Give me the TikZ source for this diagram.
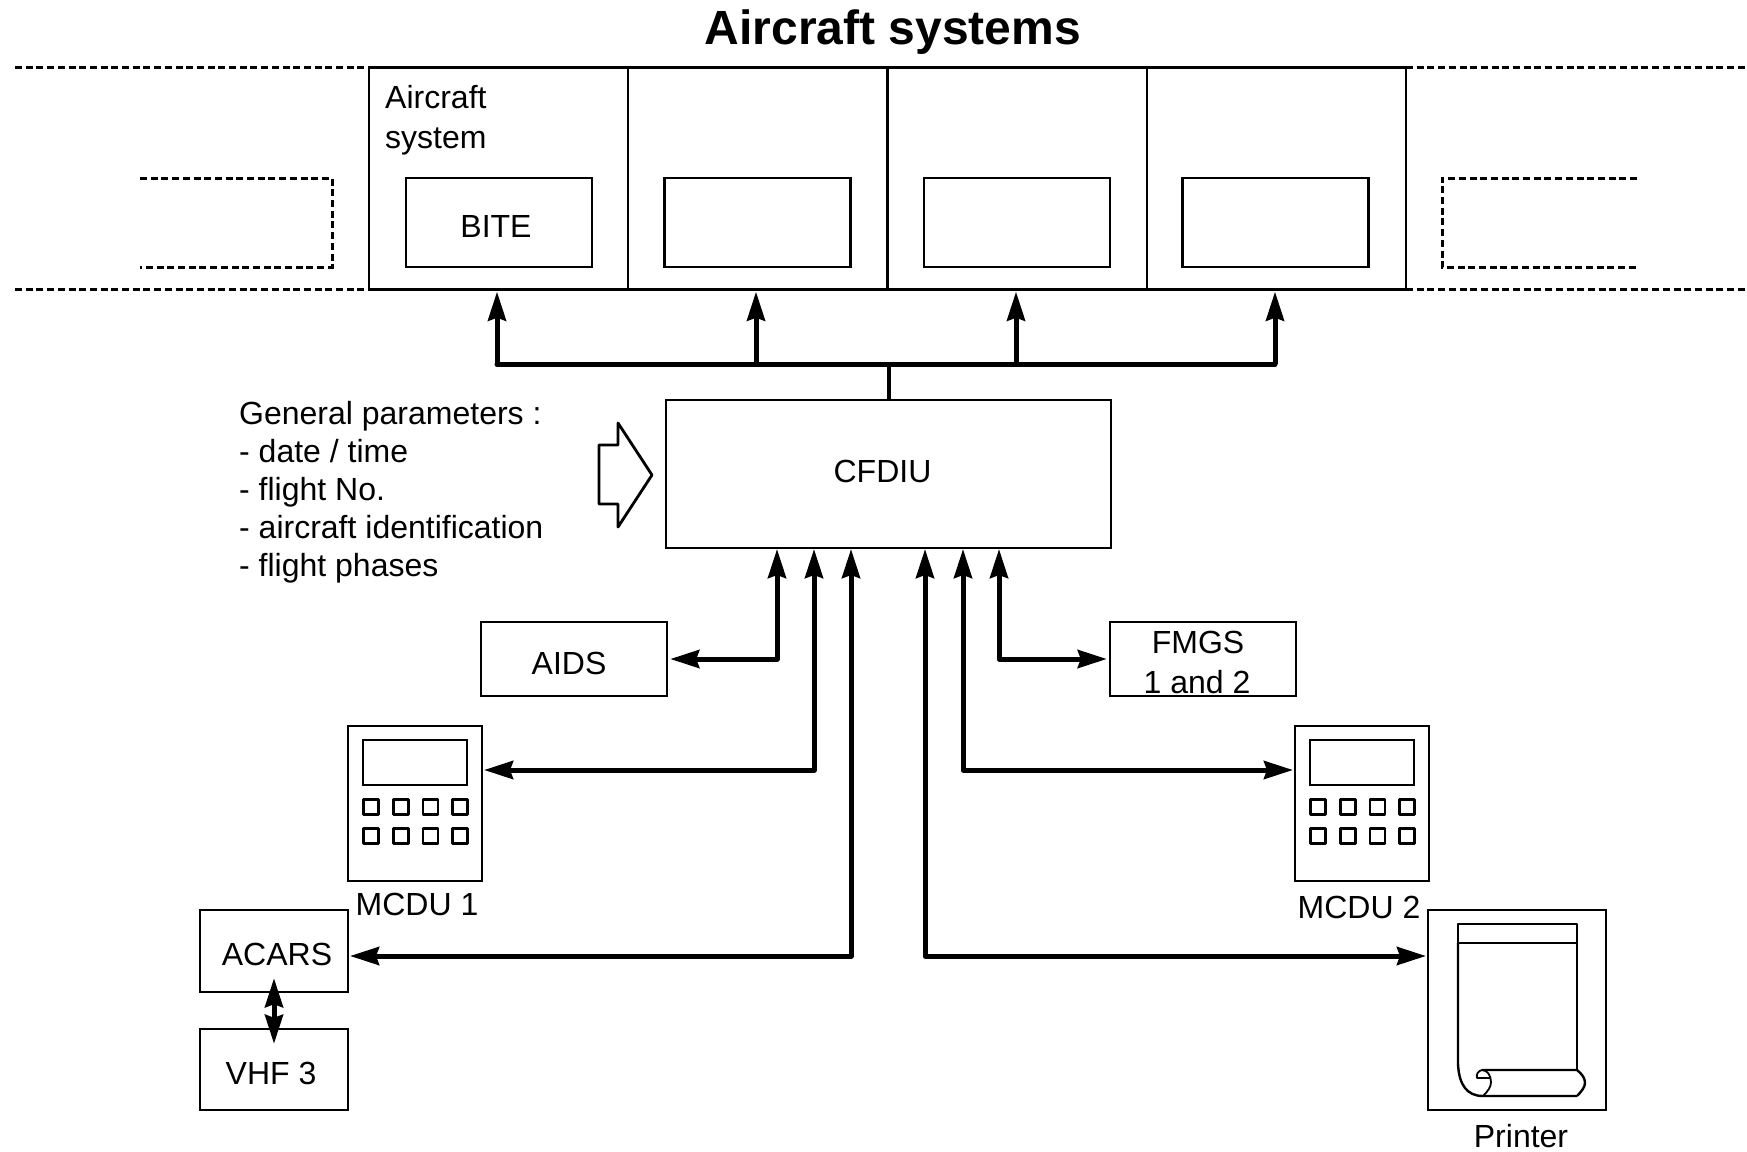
\documentclass[tikz,border=0pt]{standalone}
\usepackage{fontspec}
\setmainfont{Liberation Sans}
\usetikzlibrary{arrows.meta}

\begin{document}
\begin{tikzpicture}[
    x=1pt, y=-1pt,
    >={Stealth[length=29pt, width=18pt, inset=3pt]}, % Set default arrow tip style
    every node/.style={inner sep=0pt, font=\fontsize{32}{38}\selectfont},
    box/.style={draw, line width=2.4pt, minimum width=#1}, % Style for all boxes
    outline/.style={line width=2.4pt, line join=round}, % Style for drawn shapes
    dashline/.style={line width=3pt, dash pattern=on 7pt off 3.7pt}, % Style for open boundaries
    bus/.style={line width=5pt, line join=round, shorten <=2pt, shorten >=1pt}, % Style for data links
    caption/.style={align=left, anchor=west} % Style for free text
]
    \useasboundingbox (0,0) rectangle (1747,1151);

    % Title
    \node[font=\fontsize{48}{52}\bfseries\selectfont] (title) at (893,32) {Aircraft systems};

    % Open boundaries left and right of the systems
    \draw[dashline] (15,67) -- (369,67);
    \draw[dashline] (15,289) -- (369,289);
    \draw[dashline] (1406,67) -- (1747,67);
    \draw[dashline] (1406,289) -- (1747,289);
    \draw[dashline] (140,178) -- (332,178) -- (332,267) -- (140,267);
    \draw[dashline] (1637,178) -- (1442,178) -- (1442,267) -- (1637,267);

    % Aircraft systems, each with its test box
    \foreach \name/\sx/\bx in {A/498.5/499, B/757.5/757.5, C/1017.5/1017, D/1276.5/1275.5} {
        \node[box=259pt, minimum height=222pt] (sys\name) at (\sx,178.5) {};
        \node[box=186pt, minimum height=89pt] (bite\name) at (\bx,222.5) {};
    }
    \node[caption, font=\fontsize{32}{40}\selectfont] (sysname) at (385,120) {Aircraft\\system};
    \node (bitename) at (496,226) {BITE};

    % Main computer
    \node[box=445pt, minimum height=148pt, text depth=4.4pt] (cfdiu) at (888.5,474) {\hspace*{-12pt}CFDIU};

    % Bus up to the systems
    \path (sysA.south) ++(0,73.5) coordinate (busA);
    \foreach \name in {A,B,C,D} {
        \draw[bus, ->, shorten <=0pt] ([xshift=-1.5pt]sys\name.south |- busA) -- ([xshift=-1.5pt]sys\name.south);
    }
    \draw[bus, line cap=round, shorten <=0pt, shorten >=0pt] ([xshift=-1.5pt]sysA.south |- busA) -- ([xshift=-1.5pt]sysD.south |- busA);
    \draw[bus, line width=4pt, shorten <=0pt, shorten >=0pt] (cfdiu.north) -- (cfdiu.north |- busA);

    % General parameters and their input arrow
    \node[caption] (params) at (239,492) {General parameters :\\- date / time\\- flight No.\\- aircraft identification\\- flight phases};
    \draw[outline, line width=2.8pt] (599,445) -- (618,445) -- (618,423) -- (652,475) -- (618,527) -- (618,504) -- (599,504) -- cycle;

    % Units below the computer
    \node[box=186pt, minimum height=74pt, text height=32pt] (aids) at (574,659) {\hspace*{-10pt}AIDS};
    \node[box=186pt, minimum height=74pt, align=center] (fmgs) at (1203,659) {\rule{0pt}{30pt}\hspace*{-10pt}FMGS\\[2pt]\hspace*{-12pt}1 and 2};
    \node[box=148pt, minimum height=82pt, text height=30pt] (acars) at (274,951) {\hspace*{6pt}ACARS};
    \node[box=148pt, minimum height=81pt, text height=30pt] (vhf) at (274,1069.5) {\hspace*{-6pt}VHF 3};
    \node[box=178pt, minimum height=200pt] (printer) at (1517,1010) {};

    % Control units with screen and keys
    \foreach \name/\dx in {A/0, B/947} {
        \node[box=134pt, minimum height=155pt] (mcdu\name) at (415+\dx,803.5) {};
        \node[box=104pt, minimum height=45pt] (screen\name) at (415+\dx,762.5) {};
        \foreach \kx in {371,401,430.5,460} {
            \foreach \ky in {807,836} {
                \draw[outline] (\kx+\dx-7.5,\ky-7.5) rectangle (\kx+\dx+7.5,\ky+7.5);
            }
        }
    }
    \node (mcduAname) at (417,904) {MCDU 1};
    \node (mcduBname) at (1359,907) {MCDU 2};
    \node (printername) at (1521,1136) {Printer};

    % Ends of the links
    \coordinate (inA) at (777,548);
    \coordinate (inB) at (814,548);
    \coordinate (inC) at (851,548);
    \coordinate (inD) at (925,548);
    \coordinate (inE) at (963,548);
    \coordinate (inF) at (999,548);
    \coordinate (portA) at (482,770);
    \coordinate (portB) at (1295,770);
    \coordinate (portC) at (348,956);
    \coordinate (portD) at (1428,956);

    % Links to the computer
    \draw[bus, <->] (aids.east) -| (inA);
    \draw[bus, <->] (portA) -| (inB);
    \draw[bus, <->] (portC) -| (inC);
    \draw[bus, <->] (portD) -| (inD);
    \draw[bus, <->] (portB) -| (inE);
    \draw[bus, <->] (fmgs.west) -| (inF);
    \draw[bus, <->, shorten <=-15pt, shorten >=-16pt] (acars.south) -- (vhf.north);

    % Printer paper
    \draw[outline] (1458,943) -- (1458,924) -- (1577,924) -- (1577,1070);
    \draw[outline] (1458,943) -- (1577,943);
    \draw[outline] (1458,943) -- (1458,1064) .. controls (1459,1085) and (1467,1096) .. (1483,1096) -- (1577,1096);
    \draw[outline] (1482,1070) -- (1577,1070) .. controls (1582,1074) and (1585,1078) .. (1585,1083) .. controls (1585,1087) and (1581,1092) .. (1577,1096);
    \draw[outline, line width=1.8pt] (1483,1096) .. controls (1488,1091) and (1491,1087) .. (1491,1082) .. controls (1491,1075) and (1487,1070) .. (1482,1070) .. controls (1478,1071) and (1476,1074) .. (1477,1078) -- (1490,1078);
\end{tikzpicture}
\end{document}
